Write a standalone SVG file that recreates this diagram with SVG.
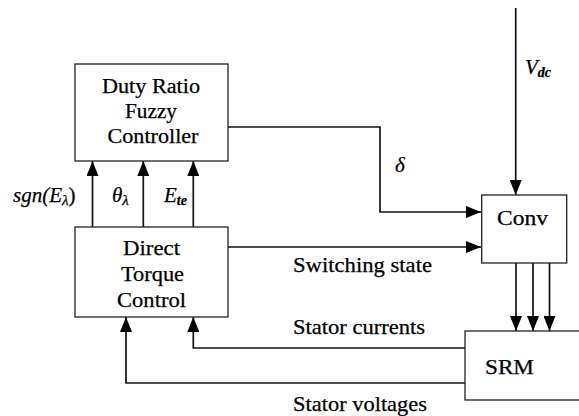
<svg xmlns="http://www.w3.org/2000/svg" width="579" height="416" viewBox="0 0 579 416">
<style>
.box{fill:#fff;stroke:#222;stroke-width:1.3}
text{font-family:'Liberation Serif','Times New Roman',serif;fill:#000;stroke:#000;stroke-width:0.25}
.t{font-size:20px;text-anchor:middle}
.lbl{font-size:21px}
.m{font-style:italic;font-size:21px}
.c{fill:none;stroke:#111;stroke-width:1.7}
</style>
<defs>
<marker id="ah" markerUnits="userSpaceOnUse" markerWidth="15" markerHeight="12" refX="15" refY="6" orient="auto">
<path d="M0,0 L15,6 L0,12 z" fill="#000"/>
</marker>
</defs>
<rect width="579" height="416" fill="#fff"/>
<g id="connectors">
<polyline class="c" points="228,127 380,127 380,212 481,212" marker-end="url(#ah)"/>
<line class="c" x1="515.7" y1="8" x2="515.7" y2="195" marker-end="url(#ah)"/>
<line class="c" x1="228" y1="247" x2="481" y2="247" marker-end="url(#ah)"/>
<line class="c" x1="92.5" y1="227" x2="92.5" y2="161" marker-end="url(#ah)"/>
<line class="c" x1="143.3" y1="227" x2="143.3" y2="161" marker-end="url(#ah)"/>
<line class="c" x1="193.3" y1="227" x2="193.3" y2="161" marker-end="url(#ah)"/>
<line class="c" x1="516" y1="263" x2="516" y2="331" marker-end="url(#ah)"/>
<line class="c" x1="533" y1="263" x2="533" y2="331" marker-end="url(#ah)"/>
<line class="c" x1="549.5" y1="263" x2="549.5" y2="331" marker-end="url(#ah)"/>
<polyline class="c" points="465,348 193.3,348 193.3,317" marker-end="url(#ah)"/>
<polyline class="c" points="465,383 126,383 126,317" marker-end="url(#ah)"/>
</g>
<g id="duty">
<rect class="box" x="75" y="64" width="153" height="97"/>
<text class="t" x="151" y="93" textLength="98" lengthAdjust="spacingAndGlyphs">Duty Ratio</text>
<text class="t" x="151" y="118" textLength="52" lengthAdjust="spacingAndGlyphs">Fuzzy</text>
<text class="t" x="153" y="143" textLength="91" lengthAdjust="spacingAndGlyphs">Controller</text>
</g>
<g id="dtc">
<rect class="box" x="75" y="227" width="153" height="90"/>
<text class="t" x="151.5" y="255" textLength="57" lengthAdjust="spacingAndGlyphs">Direct</text>
<text class="t" x="152.5" y="281" textLength="63" lengthAdjust="spacingAndGlyphs">Torque</text>
<text class="t" x="151.5" y="307" textLength="69" lengthAdjust="spacingAndGlyphs">Control</text>
</g>
<g id="conv">
<rect class="box" x="481.7" y="195" width="85" height="68"/>
<text class="t" x="522.5" y="225" textLength="51" lengthAdjust="spacingAndGlyphs">Conv</text>
</g>
<g id="srm">
<rect class="box" x="465" y="331" width="120" height="69"/>
<text class="t" x="509.5" y="374" textLength="49" lengthAdjust="spacingAndGlyphs">SRM</text>
</g>
<g id="labels">
<text class="m" x="13" y="202">sgn(<tspan>E</tspan><tspan font-size="15" dy="3">λ</tspan><tspan font-style="normal" dy="-3">)</tspan></text>
<text class="m" x="112" y="202">θ<tspan font-size="15" dy="3">λ</tspan></text>
<text class="m" x="164" y="202">E<tspan font-size="14" dy="3" font-weight="bold">te</tspan></text>
<text class="m" x="525" y="74">V<tspan font-size="14" dy="3" font-weight="bold">dc</tspan></text>
<text class="m" x="395" y="172">δ</text>
<text class="lbl" x="293" y="271.5" textLength="139" lengthAdjust="spacingAndGlyphs">Switching state</text>
<text class="lbl" x="293" y="334" textLength="132" lengthAdjust="spacingAndGlyphs">Stator currents</text>
<text class="lbl" x="293" y="411" textLength="134" lengthAdjust="spacingAndGlyphs">Stator voltages</text>
</g>
</svg>
